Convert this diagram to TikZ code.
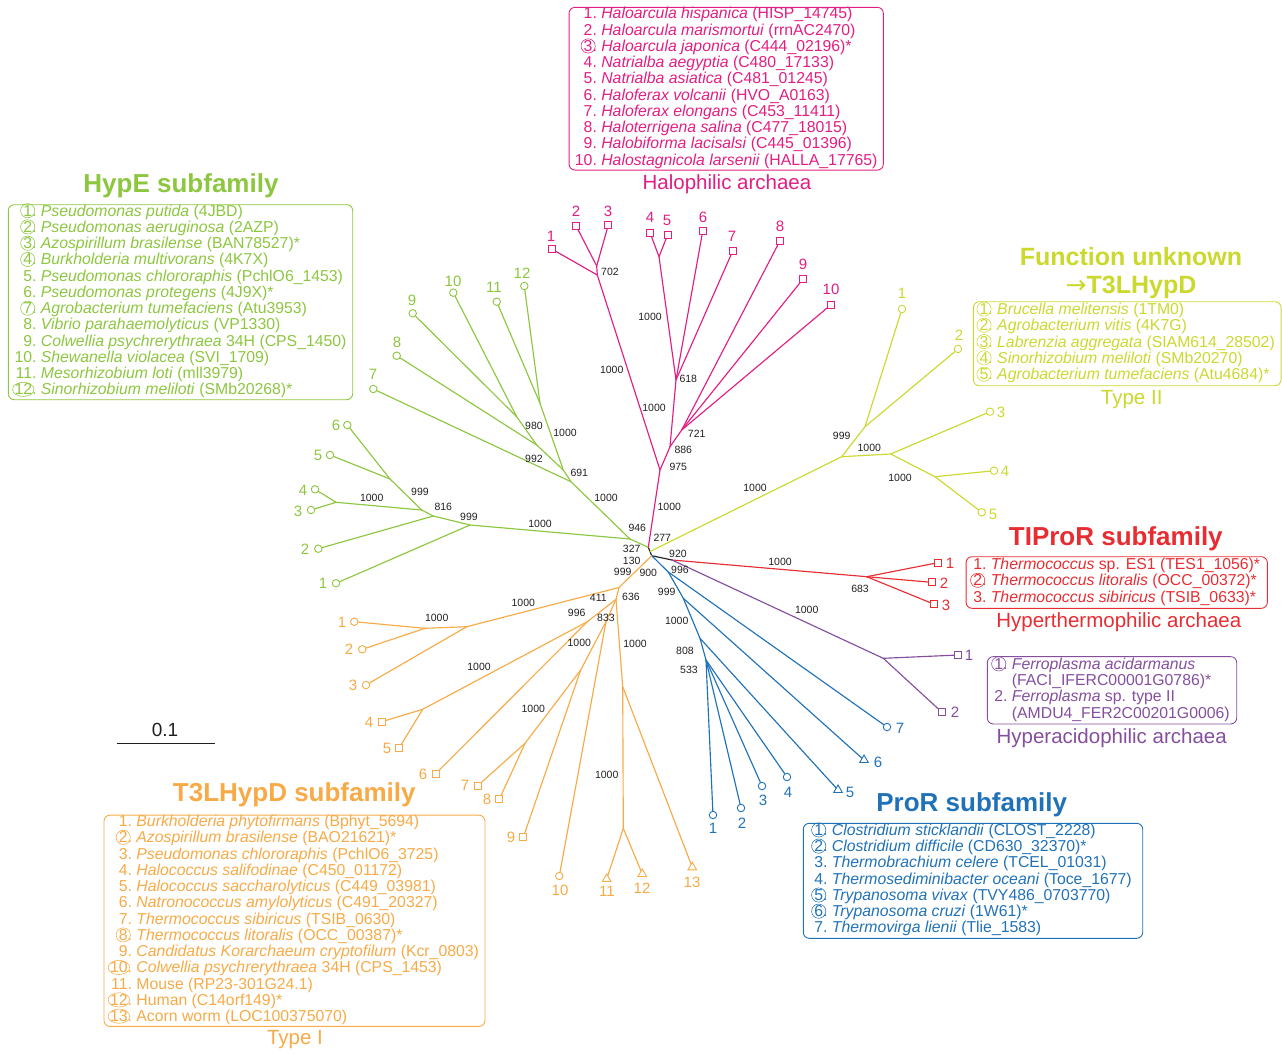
\documentclass[tikz,border=0pt]{standalone}
\usepackage{fontspec}
\setmainfont{Liberation Sans}
\newfontfamily\djv{DejaVu Sans}
\usetikzlibrary{shapes.geometric}
\definecolor{cG}{RGB}{141,198,63}
\definecolor{cM}{RGB}{226,30,130}
\definecolor{cY}{RGB}{203,216,46}
\definecolor{cR}{RGB}{232,45,50}
\definecolor{cP}{RGB}{133,78,158}
\definecolor{cB}{RGB}{32,114,184}
\definecolor{cO}{RGB}{247,170,70}
\definecolor{cK}{RGB}{35,31,32}
\newcommand\boxfont{\fontsize{15.8}{16}\selectfont}
\newcommand\cn[1]{\colorlet{cncol}{.}\tikz[baseline=(cnx.base)]{\node[shape=rectangle,draw=none,fill=none,inner sep=0pt,outer sep=0pt,minimum width=0pt,minimum height=0pt,anchor=base](cnx){#1};\draw[overlay,draw=cncol,line width=0.55pt](cnx.center) ellipse [x radius=0.45em,y radius=0.45em];}.}
\newcommand\cnn[1]{\colorlet{cncol}{.}\tikz[baseline=(cnx.base)]{\node[shape=rectangle,draw=none,fill=none,inner sep=0pt,outer sep=0pt,minimum width=0pt,minimum height=0pt,anchor=base](cnx){#1};\draw[overlay,draw=cncol,line width=0.55pt](cnx.center) ellipse [x radius=0.68em,y radius=0.45em];}.}
\begin{document}
\begin{tikzpicture}[x=1pt,y=-1pt,
 br/.style={line width=1.15pt, line cap=round, line join=round},
 bs/.style={font=\fontsize{10.5}{12}\selectfont, text=cK, inner sep=0pt},
 tl/.style={font=\fontsize{15}{16}\selectfont, inner sep=0pt},
 mc/.style={circle, draw, fill=white, line width=0.9pt, minimum size=7.5pt, inner sep=0pt},
 ms/.style={rectangle, draw, fill=white, line width=0.9pt, minimum size=7pt, inner sep=0pt},
 mt/.style={regular polygon, regular polygon sides=3, draw, fill=white, line width=0.9pt, minimum size=10pt, inner sep=0pt},
 box/.style={draw, rounded corners=6pt, line width=0.9pt, inner sep=0pt, font=\boxfont},
 ttl/.style={font=\fontsize{26}{23}\selectfont\bfseries, inner sep=0pt, align=center},
 sub/.style={font=\fontsize{20.5}{22}\selectfont, inner sep=0pt}]
\useasboundingbox (0,0) rectangle (1282,1053);

% ---------- internal coordinates ----------
\coordinate (Rt1) at (648.3,547.3);
\coordinate (Rm) at (650,551.5);
\coordinate (Rt2) at (651.7,555.7);
\coordinate (TP) at (672,560);
% green
\coordinate (G0) at (630,539);
\coordinate (GA) at (571,481.7);
\coordinate (GC) at (563.3,470);
\coordinate (GE) at (536.7,445);
\coordinate (GD) at (516.7,416.7);
\coordinate (GF) at (540,403.3);
\coordinate (GB) at (470,525);
\coordinate (GG) at (433.3,516);
\coordinate (GH) at (421.7,510);
\coordinate (GI) at (336,502.3);
\coordinate (GJ) at (390,479);
% magenta
\coordinate (M1) at (660,470);
\coordinate (M2) at (597.3,275);
\coordinate (M2b) at (596.7,266);
\coordinate (M3) at (670,446.7);
\coordinate (M4) at (676,380);
\coordinate (M6) at (659,256.7);
\coordinate (M5) at (681.7,430);
% yellow
\coordinate (Y1) at (841.7,456.7);
\coordinate (Y2) at (865,426.7);
\coordinate (Y3) at (890.7,454);
\coordinate (Y4) at (935,476.7);
% red, purple
\coordinate (R) at (866.7,576.7);
\coordinate (P) at (883.3,658.3);
% blue
\coordinate (B) at (668.3,572);
\coordinate (C) at (683.3,598.3);
\coordinate (D) at (700,638.3);
\coordinate (E) at (706,660);
% orange
\coordinate (O1) at (619,587.5);
\coordinate (O2) at (466.7,626.7);
\coordinate (O4) at (425,628.3);
\coordinate (O3) at (616,599.3);
\coordinate (O5) at (587.3,621.7);
\coordinate (O9) at (422.7,709.3);
\coordinate (O6) at (606,621.7);
\coordinate (O10) at (580.7,670);
\coordinate (O11) at (525,743.3);
\coordinate (O7) at (622.7,686.7);
\coordinate (O8) at (623.3,828.3);

% ---------- tips ----------
\foreach \n/\x/\y in {1/336/583.3,2/318.3/548.7,3/311/510,4/315/489.3,5/330/455,6/347.3/425,7/373.3/389,8/396.7/355.7,9/412.7/313.3,10/453.3/292.7,11/496.7/301.7,12/524.3/286}
  \node[cG,mc] (g\n) at (\x,\y) {};
\foreach \n/\x/\y in {1/323/583,2/305/549,3/298/511,4/303/490,5/318/455,6/336/425,7/373/374,8/397/342,9/412/300,10/453/281,11/494/287,12/522/273}
  \node[tl,cG] (lg\n) at (\x,\y) {\n};

\foreach \n/\x/\y in {1/551.7/249,2/576/225.7,3/608.3/225,4/650/232.7,5/667.7/234.7,6/702.7/231.3,7/732.7/251,8/780/240.7,9/803.3/278.7,10/831/304.7}
  \node[cM,ms] (h\n) at (\x,\y) {};
\foreach \n/\x/\y in {1/551/236,2/576/211,3/608/211,4/650/217,5/667/220,6/703/217,7/732/236,8/780/226,9/803/264,10/831/289}
  \node[tl,cM] (lh\n) at (\x,\y) {\n};

\foreach \n/\x/\y in {1/902/309,2/958/349,3/990/411.7,4/994/470.7,5/981.7/512.3}
  \node[cY,mc] (y\n) at (\x,\y) {};
\foreach \n/\x/\y in {1/902/293,2/959/335,3/1001/412,4/1005/471,5/993/514}
  \node[tl,cY] (ly\n) at (\x,\y) {\n};

\foreach \n/\x/\y in {1/937.7/562.7,2/931.7/582.3,3/934.3/604.3}
  \node[cR,ms] (r\n) at (\x,\y) {};
\foreach \n/\x/\y in {1/950/563,2/944/583,3/946/605}
  \node[tl,cR] (lr\n) at (\x,\y) {\n};

\foreach \n/\x/\y in {1/958.3/655,2/942/712.3}
  \node[cP,ms] (p\n) at (\x,\y) {};
\foreach \n/\x/\y in {1/969/655,2/955/712}
  \node[tl,cP] (lp\n) at (\x,\y) {\n};

\foreach \n/\x/\y in {1/713/815,2/741/808,3/762/786,4/787/777,7/887/727}
  \node[cB,mc] (b\n) at (\x,\y) {};
\foreach \n/\x/\y in {5/838/790,6/864/760}
  \node[cB,mt] (b\n) at (\x,\y) {};
\foreach \n/\x/\y in {1/713/828,2/742/823,3/763/800,4/788/792,5/850/792,6/878/762,7/900/728}
  \node[tl,cB] (lb\n) at (\x,\y) {\n};

\foreach \n/\x/\y in {1/354.3/621.7,2/362.3/649.3,3/366/685,10/559.3/876}
  \node[cO,mc] (o\n) at (\x,\y) {};
\foreach \n/\x/\y in {4/381.7/721.7,5/399.3/747.7,6/435.7/773.7,7/477.7/785.7,8/499.3/799.3,9/523.3/837.3}
  \node[cO,ms] (o\n) at (\x,\y) {};
\foreach \n/\x/\y in {11/606.7/879,12/642.3/874,13/692.3/867.3}
  \node[cO,mt] (o\n) at (\x,\y) {};
\foreach \n/\x/\y in {1/342/622,2/349/649,3/353/685,4/369/722,5/387/748,6/423/774,7/465/785,8/487/799,9/511/837,10/560/890,11/607/891,12/642/888,13/692/882}
  \node[tl,cO] (lo\n) at (\x,\y) {\n};

% ---------- branches ----------
\draw[br,cK] (Rt1) -- (Rm) -- (Rt2) -- (TP);
\draw[br,cG] (Rt1) -- (G0);
\draw[br,cG] (G0) -- (GA) -- (g7);
\draw[br,cG] (GA) -- (GC) -- (GF) -- (g11);
\draw[br,cG] (GF) -- (g12);
\draw[br,cG] (GC) -- (GE) -- (g8);
\draw[br,cG] (GE) -- (GD) -- (g9);
\draw[br,cG] (GD) -- (g10);
\draw[br,cG] (G0) -- (GB) -- (g1);
\draw[br,cG] (GB) -- (GG) -- (g2);
\draw[br,cG] (GG) -- (GH) -- (GI) -- (g3);
\draw[br,cG] (GI) -- (g4);
\draw[br,cG] (GH) -- (GJ) -- (g5);
\draw[br,cG] (GJ) -- (g6);

\draw[br,cM] (Rt1) -- (M1) -- (M2) -- (h1);
\draw[br,cM] (M2) -- (M2b) -- (h2);
\draw[br,cM] (M2b) -- (h3);
\draw[br,cM] (M1) -- (M3) -- (M4) -- (M6) -- (h4);
\draw[br,cM] (M6) -- (h5);
\draw[br,cM] (M4) -- (h6);
\draw[br,cM] (M4) -- (h7);
\draw[br,cM] (M3) -- (M5) -- (h8);
\draw[br,cM] (M5) -- (h9);
\draw[br,cM] (M5) -- (h10);

\draw[br,cY] (Rm) -- (Y1) -- (Y2) -- (y1);
\draw[br,cY] (Y2) -- (y2);
\draw[br,cY] (Y1) -- (Y3) -- (y3);
\draw[br,cY] (Y3) -- (Y4) -- (y4);
\draw[br,cY] (Y4) -- (y5);

\draw[br,cR] (TP) -- (R) -- (r1);
\draw[br,cR] (R) -- (r2);
\draw[br,cR] (R) -- (r3);

\draw[br,cP] (TP) -- (P) -- (p1);
\draw[br,cP] (P) -- (p2);

\draw[br,cB] (Rt2) -- (B) -- (b7);
\draw[br,cB] (B) -- (C) -- (b6);
\draw[br,cB] (C) -- (D) -- (b5);
\draw[br,cB] (D) -- (E) -- (b1);
\draw[br,cB] (E) -- (b2);
\draw[br,cB] (E) -- (b3);
\draw[br,cB] (E) -- (b4);

\draw[br,cO] (Rt2) -- (O1) -- (O2) -- (o3);
\draw[br,cO] (O2) -- (O4) -- (o1);
\draw[br,cO] (O4) -- (o2);
\draw[br,cO] (O1) -- (O3) -- (O5) -- (O9) -- (o4);
\draw[br,cO] (O9) -- (o5);
\draw[br,cO] (O5) -- (o6);
\draw[br,cO] (O3) -- (O6) -- (O10) -- (o9);
\draw[br,cO] (O10) -- (O11) -- (o7);
\draw[br,cO] (O11) -- (o8);
\draw[br,cO] (O6) -- (o10);
\draw[br,cO] (O3) -- (O7) -- (o13);
\draw[br,cO] (O7) -- (O8) -- (o11);
\draw[br,cO] (O8) -- (o12);

% ---------- bootstrap values ----------
\foreach \x/\y/\t [count=\i] in {
 371.7/498.3/1000, 420/491.7/999, 443.3/507.3/816, 469/516.7/999, 540/524/1000, 534/459.3/992, 534/426/980, 565/432.7/1000, 579.3/473.3/691, 606/498.3/1000, 637.3/528.3/946,
 610/271.7/702, 650/316.7/1000, 611.7/370/1000, 688.3/379.3/618, 654/408.3/1000, 696.7/434/721, 683.3/450/886, 678.3/466.7/975, 669.3/506.7/1000, 662.3/538.3/277,
 631.7/549.3/327, 631.7/560.7/130, 622.7/571.7/999, 648.3/573.3/900, 678/554/920, 680/570/996,
 755/488.3/1000, 841.7/436/999, 869.3/448.3/1000, 900/478.3/1000,
 780/562.3/1000, 860/589.3/683, 806.7/610/1000,
 666.7/591.7/999, 676.7/620.7/1000, 685/650.7/808, 689/670/533,
 598.3/598.3/411, 631/596.7/636, 523.3/603.3/1000, 436.7/618.3/1000, 576.7/613.3/996, 606/618.3/833, 579.3/642.7/1000, 635/644.3/1000, 479/667.3/1000, 533.3/709.3/1000, 606.7/775/1000}
 \node[bs] (bv\i) at (\x,\y) {\t};

% ---------- scale bar ----------
\coordinate (sb1) at (116.7,743.3);
\coordinate (sb2) at (215,743.3);
\draw[line width=1.2pt,cK] (sb1) -- (sb2);
\node[font=\fontsize{19}{20}\selectfont, text=cK, inner sep=0pt] (sbl) at (165,730) {0.1};

% ---------- titles ----------
\node[sub,cM] (halt) at (727,184) {Halophilic archaea};
\node[ttl,cG] (hypet) at (181,186) {HypE subfamily};
\node[ttl,cY,anchor=base,font=\fontsize{25}{23}\selectfont\bfseries] (funt1) at (1131,265.5) {Function unknown};
\node[ttl,cY,anchor=base,font=\fontsize{25}{23}\selectfont\bfseries] (funt2) at (1131,293.5) {{\djv\mdseries →}T3LHypD};
\node[sub,cY] (typ2) at (1131.7,400) {Type II};
\node[ttl,cR] (tipt) at (1115.8,538.3) {TIProR subfamily};
\node[sub,cR] (hypt) at (1118.8,621.7) {Hyperthermophilic archaea};
\node[sub,cP] (acit) at (1111.7,738.3) {Hyperacidophilic archaea};
\node[ttl,cB] (prot) at (971.7,805) {ProR subfamily};
\node[ttl,cO] (t3lt) at (294.3,795) {T3LHypD subfamily};
\node[sub,cO] (typ1) at (295,1040) {Type I};

% ---------- boxes ----------
\node[box,cM,minimum width=314.3pt,minimum height=162.7pt] (halbox) at (726.2,88.7) {\begin{tabular}{@{}r@{\hspace{0.278em}}l@{}}
1. & \textit{Haloarcula hispanica} (HISP\_14745)\\
2. & \textit{Haloarcula marismortui} (rrnAC2470)\\
\cn{3} & \textit{Haloarcula japonica} (C444\_02196)*\\
4. & \textit{Natrialba aegyptia} (C480\_17133)\\
5. & \textit{Natrialba asiatica} (C481\_01245)\\
6. & \textit{Haloferax volcanii} (HVO\_A0163)\\
7. & \textit{Haloferax elongans} (C453\_11411)\\
8. & \textit{Haloterrigena salina} (C477\_18015)\\
9. & \textit{Halobiforma lacisalsi} (C445\_01396)\\
10. & \textit{Halostagnicola larsenii} (HALLA\_17765)
\end{tabular}};

\node[box,cG,minimum width=344.4pt,minimum height=194.3pt] (hypebox) at (180.5,302.2) {\begin{tabular}{@{}r@{\hspace{0.278em}}l@{}}
\cn{1} & \textit{Pseudomonas putida} (4JBD)\\
\cn{2} & \textit{Pseudomonas aeruginosa} (2AZP)\\
\cn{3} & \textit{Azospirillum brasilense} (BAN78527)*\\
\cn{4} & \textit{Burkholderia multivorans} (4K7X)\\
5. & \textit{Pseudomonas chlororaphis} (PchlO6\_1453)\\
6. & \textit{Pseudomonas protegens} (4J9X)*\\
\cn{7} & \textit{Agrobacterium tumefaciens} (Atu3953)\\
8. & \textit{Vibrio parahaemolyticus} (VP1330)\\
9. & \textit{Colwellia psychrerythraea} 34H (CPS\_1450)\\
10. & \textit{Shewanella violacea} (SVI\_1709)\\
11. & \textit{Mesorhizobium loti} (mll3979)\\
\cnn{12} & \textit{Sinorhizobium meliloti} (SMb20268)*
\end{tabular}};

\node[box,cY,minimum width=307.7pt,minimum height=84pt] (funbox) at (1127.2,343.7) {\begin{tabular}{@{}r@{\hspace{0.278em}}l@{}}
\cn{1} & \textit{Brucella melitensis} (1TM0)\\
\cn{2} & \textit{Agrobacterium vitis} (4K7G)\\
\cn{3} & \textit{Labrenzia aggregata} (SIAM614\_28502)\\
\cn{4} & \textit{Sinorhizobium meliloti} (SMb20270)\\
\cn{5} & \textit{Agrobacterium tumefaciens} (Atu4684)*
\end{tabular}};

\node[box,cR,minimum width=301.3pt,minimum height=51.6pt] (tipbox) at (1116.7,582.5) {\begin{tabular}{@{}r@{\hspace{0.278em}}l@{}}
1. & \textit{Thermococcus} sp. ES1 (TES1\_1056)*\\
\cn{2} & \textit{Thermococcus litoralis} (OCC\_00372)*\\
3. & \textit{Thermococcus sibiricus} (TSIB\_0633)*
\end{tabular}};

\node[box,cP,minimum width=249.4pt,minimum height=67.3pt] (acibox) at (1112,690.3) {\begin{tabular}{@{}r@{\hspace{0.278em}}l@{}}
\cn{1} & \textit{Ferroplasma acidarmanus}\\
 & (FACI\_IFERC00001G0786)*\\
2. & \textit{Ferroplasma} sp. type II\\
 & (AMDU4\_FER2C00201G0006)
\end{tabular}};

\node[box,cB,minimum width=339.4pt,minimum height=115pt] (probox) at (973,880.8) {\begin{tabular}{@{}r@{\hspace{0.278em}}l@{}}
\cn{1} & \textit{Clostridium sticklandii} (CLOST\_2228)\\
\cn{2} & \textit{Clostridium difficile} (CD630\_32370)*\\
3. & \textit{Thermobrachium celere} (TCEL\_01031)\\
4. & \textit{Thermosediminibacter oceani} (Toce\_1677)\\
\cn{5} & \textit{Trypanosoma vivax} (TVY486\_0703770)\\
\cn{6} & \textit{Trypanosoma cruzi} (1W61)*\\
7. & \textit{Thermovirga lienii} (Tlie\_1583)
\end{tabular}};

\node[box,cO,minimum width=381pt,minimum height=208.3pt] (t3lbox) at (294.5,920.8) {\begin{tabular}{@{}r@{\hspace{0.278em}}l@{}}
1. & \textit{Burkholderia phytofirmans} (Bphyt\_5694)\\
\cn{2} & \textit{Azospirillum brasilense} (BAO21621)*\\
3. & \textit{Pseudomonas chlororaphis} (PchlO6\_3725)\\
4. & \textit{Halococcus salifodinae} (C450\_01172)\\
5. & \textit{Halococcus saccharolyticus} (C449\_03981)\\
6. & \textit{Natronococcus amylolyticus} (C491\_20327)\\
7. & \textit{Thermococcus sibiricus} (TSIB\_0630)\\
\cn{8} & \textit{Thermococcus litoralis} (OCC\_00387)*\\
9. & \textit{Candidatus Korarchaeum cryptofilum} (Kcr\_0803)\\
\cnn{10} & \textit{Colwellia psychrerythraea} 34H (CPS\_1453)\\
11. & Mouse (RP23-301G24.1)\\
\cnn{12} & Human (C14orf149)*\\
\cnn{13} & Acorn worm (LOC100375070)
\end{tabular}};
\end{tikzpicture}
\end{document}
